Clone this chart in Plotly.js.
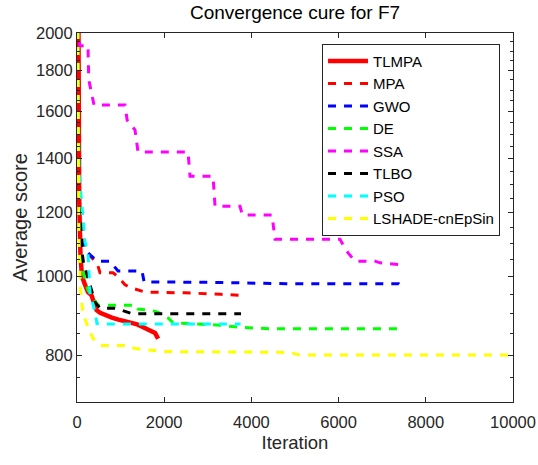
<!DOCTYPE html>
<html>
<head>
<meta charset="utf-8">
<script src="https://cdn.plot.ly/plotly-3.0.1.min.js"></script>
<style>
  html, body { margin: 0; padding: 0; background: #fff; }
  #chart { width: 538px; height: 465px; }
</style>
</head>
<body>
<div id="chart"></div>
<script>
// Best score per iteration for each optimiser on benchmark F7
const tlmpaIter  = [1, 15, 30, 50, 80, 115, 184, 252, 330, 400, 450, 530, 650, 800, 950, 1170, 1380, 1520, 1720, 1790, 1835, 1860];
const tlmpaScore = [5200, 2600, 1700, 1250, 1060, 1000, 977, 957, 949, 920, 909, 902, 896, 890, 885, 880, 873, 866, 856, 852, 843, 838];

const mpaIter  = [1, 20, 45, 80, 115, 184, 300, 459, 528, 826, 941, 1101, 1285, 1445, 1560, 2000, 2479, 3300, 3750];
const mpaScore = [5000, 1900, 1350, 1200, 1165, 1085, 1060, 1040, 1011, 1011, 1000, 977, 967, 962, 957, 956, 955, 951, 948];

const gwoIter  = [1, 20, 45, 69, 115, 252, 459, 757, 826, 941, 1491, 1540, 3000, 4800, 7380, 7440, 7478];
const gwoScore = [5000, 1900, 1300, 1158, 1100, 1070, 1045, 1045, 1034, 1016, 1016, 985, 984, 980, 980, 975, 970];

const deIter  = [1, 20, 45, 90, 138, 252, 367, 482, 1376, 1400, 1650, 1800, 1973, 2100, 2202, 3280, 3625, 4400, 7440];
const deScore = [5000, 1900, 1350, 1100, 1014, 962, 941, 922, 922, 912, 909, 906, 898, 888, 877, 871, 867, 862, 862];

const ssaIter  = [1, 20, 60, 252, 270, 390, 1101, 1150, 1330, 1376, 1400, 2546, 2592, 3120, 3166, 3739, 3790, 4473, 4542, 6033, 6079, 6217, 6377, 6836, 6951, 7400, 7478];
const ssaScore = [8000, 2600, 1929, 1929, 1750, 1630, 1630, 1561, 1518, 1450, 1426, 1426, 1331, 1331, 1222, 1222, 1192, 1192, 1112, 1112, 1100, 1070, 1045, 1045, 1040, 1035, 1028];

const tlboIter  = [1, 20, 45, 115, 150, 229, 413, 528, 850, 1050, 1170, 1262, 3762];
const tlboScore = [5000, 1900, 1300, 1072, 1040, 1005, 930, 914, 914, 908, 904, 900, 900];

const psoIter  = [1, 20, 45, 138, 184, 252, 298, 413, 459, 600, 3750];
const psoScore = [5000, 1900, 1350, 1158, 1104, 1070, 957, 904, 875, 874, 874];

const lshadeIter  = [1, 15, 30, 50, 80, 140, 252, 367, 482, 574, 1101, 1331, 1629, 2019, 3700, 4900, 5100, 10000];
const lshadeScore = [5000, 2000, 1400, 1080, 960, 900, 866, 839, 827, 822, 822, 815, 812, 808, 807, 806, 800, 800];

const xTicks = [0, 2000, 4000, 6000, 8000, 10000];
const yTicks = [800, 1000, 1200, 1400, 1600, 1800, 2000];
const yMinor = [750, 850, 900, 950, 1050, 1100, 1150, 1250, 1300, 1350, 1450, 1500, 1550, 1650, 1700, 1750, 1850, 1900, 1950];

const DASH = '8px,8px';
function curve(name, x, y, color, dash, width) {
  return { type: 'scatter', mode: 'lines', name: name, x: x, y: y,
           line: { color: color, width: width, dash: dash } };
}

const traces = [
  curve('TLMPA', tlmpaIter, tlmpaScore, '#ff0000', 'solid', 4.5),
  curve('MPA', mpaIter, mpaScore, '#ff0000', DASH, 3),
  curve('GWO', gwoIter, gwoScore, '#0000ff', DASH, 3),
  curve('DE', deIter, deScore, '#00ff00', DASH, 3),
  curve('SSA', ssaIter, ssaScore, '#ff00ff', DASH, 3),
  curve('TLBO', tlboIter, tlboScore, '#000000', DASH, 3),
  curve('PSO', psoIter, psoScore, '#00ffff', DASH, 3),
  curve('LSHADE-cnEpSin', lshadeIter, lshadeScore, '#ffff00', DASH, 3)
];

const axisColor = '#262626';
const layout = {
  width: 538, height: 465,
  margin: { l: 77, r: 25, t: 33, b: 63, pad: 0 },
  paper_bgcolor: '#ffffff', plot_bgcolor: '#ffffff',
  font: { family: 'Liberation Sans, Arial, sans-serif', color: axisColor, size: 16.5 },
  title: { text: 'Convergence cure for F7', font: { size: 19, color: '#000000' },
           x: 0.5, xref: 'paper', xanchor: 'center', y: 1 - 12 / 465, yref: 'container', yanchor: 'middle' },
  showlegend: true,
  legend: { x: 0.562, y: 0.971, xanchor: 'left', yanchor: 'top', bgcolor: '#ffffff',
            bordercolor: axisColor, borderwidth: 1, font: { size: 15, color: '#000000' },
            itemwidth: 40, tracegroupgap: 0 },
  hovermode: false,
  xaxis: {
    range: [0, 10000], tickmode: 'array', tickvals: xTicks, ticktext: xTicks.map(String),
    ticks: 'inside', ticklen: 5, tickcolor: axisColor, tickwidth: 1, ticklabelstandoff: 5,
    showline: true, linecolor: axisColor, linewidth: 1, mirror: 'allticks',
    showgrid: false, zeroline: false,
    title: { text: 'Iteration', font: { size: 18.5, color: axisColor }, standoff: 6 }
  },
  yaxis: {
    type: 'log', range: [Math.log10(700), Math.log10(2000)],
    tickmode: 'array', tickvals: yTicks, ticktext: yTicks.map(String),
    ticks: 'inside', ticklen: 5, tickcolor: axisColor, tickwidth: 1,
    minor: { tickmode: 'array', tickvals: yMinor, ticks: 'inside', ticklen: 3, tickcolor: axisColor, showgrid: false },
    showline: true, linecolor: axisColor, linewidth: 1, mirror: 'allticks',
    showgrid: false, zeroline: false,
    title: { text: 'Average score', font: { size: 20, color: axisColor }, standoff: 2 }
  }
};

Plotly.newPlot('chart', traces, layout, { staticPlot: true, displayModeBar: false });
</script>
</body>
</html>
